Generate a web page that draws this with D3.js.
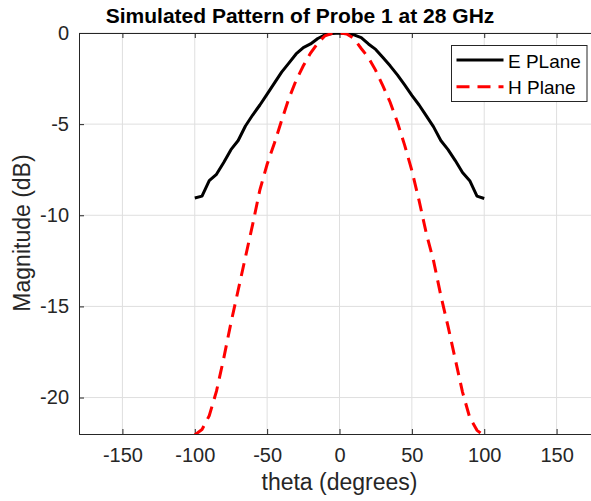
<!DOCTYPE html>
<html>
<head>
<meta charset="utf-8">
<script src="https://cdn.jsdelivr.net/npm/d3@7"></script>
<style>
  body { margin: 0; background: #fff; }
  text { font-family: "Liberation Sans", Arial, sans-serif; fill: #262626; }
</style>
</head>
<body>
<svg id="chart" width="591" height="501"></svg>
<script>
// angles in degrees, sampled every 5 deg
var theta = d3.range(-100, 101, 5);
var ePlane = [-9.05, -8.95, -8.1, -7.75, -7.1, -6.4, -5.9, -5.1, -4.5, -3.95,
              -3.35, -2.75, -2.15, -1.65, -1.15, -0.8, -0.6, -0.3, -0.1, -0.03,
              0,
              -0.03, -0.1, -0.25, -0.6, -0.9, -1.35, -1.8, -2.3, -2.85, -3.42,
              -3.95, -4.55, -5.15, -5.9, -6.4, -7.0, -7.65, -8.1, -8.95, -9.08];
var hPlane = [-22.05, -21.75, -21.0, -19.65, -17.85, -15.9, -14.1, -12.3, -10.5, -8.6,
              -7.2, -6.05, -4.8, -3.6, -2.6, -1.8, -1.1, -0.55, -0.15, -0.02,
              0,
              -0.05, -0.3, -0.85, -1.35, -2.05, -2.9, -3.8, -4.9, -6.15, -7.55,
              -9.2, -11.0, -12.5, -14.4, -16.1, -17.9, -19.7, -21.1, -21.8, -22.1];
var xTicks = [-150, -100, -50, 0, 50, 100, 150];
var yTicks = [0, -5, -10, -15, -20];
var seriesNames = ["E PLane", "H Plane"];

var svg = d3.select("#chart");
var padL = 79, padT = 33, padR = 600, padB = 434;

var x = d3.scaleLinear().domain([-180, 180]).range([padL, padR]);
var y = d3.scaleLinear().domain([-22, 0]).range([padB, padT]);

svg.append("clipPath").attr("id", "plotClip")
  .append("rect")
  .attr("x", padL).attr("y", padT)
  .attr("width", padR - padL).attr("height", padB - padT);

// grid
var grid = svg.append("g");
grid.selectAll("line.gx").data(xTicks).enter().append("line")
  .attr("x1", function (d) { return x(d); }).attr("x2", function (d) { return x(d); })
  .attr("y1", padT).attr("y2", padB)
  .attr("stroke", "#dfdfdf").attr("stroke-width", 1);
grid.selectAll("line.gy").data(yTicks).enter().append("line")
  .attr("x1", padL).attr("x2", padR)
  .attr("y1", function (d) { return y(d); }).attr("y2", function (d) { return y(d); })
  .attr("stroke", "#dfdfdf").attr("stroke-width", 1);

// axes, ticks pointing inward like matlab, plain hyphen minus
var fmt = function (d) { return String(d); };
var xAxis = svg.append("g").attr("transform", "translate(0," + padB + ")")
  .call(d3.axisBottom(x).tickValues(xTicks).tickSize(-5).tickPadding(14).tickFormat(fmt));
var xTop = svg.append("g").attr("transform", "translate(0," + padT + ")")
  .call(d3.axisTop(x).tickValues(xTicks).tickSize(-5).tickFormat(""));
var yAxis = svg.append("g").attr("transform", "translate(" + padL + ",0)")
  .call(d3.axisLeft(y).tickValues(yTicks).tickSize(-5).tickPadding(10).tickFormat(fmt));

[xAxis, xTop, yAxis].forEach(function (a) {
  a.select(".domain").attr("stroke", "#262626").attr("stroke-width", 1);
  a.selectAll(".tick line").attr("stroke", "#262626");
  a.selectAll("text").attr("font-size", 20).attr("fill", "#262626")
    .attr("font-family", "Liberation Sans, Arial, sans-serif");
});
xAxis.selectAll("text").attr("dy", "0.71em");

// curves
var line = d3.line()
  .x(function (d) { return x(d[0]); })
  .y(function (d) { return y(d[1]); });

var plot = svg.append("g").attr("clip-path", "url(#plotClip)");
plot.append("path")
  .datum(d3.zip(theta, ePlane))
  .attr("d", line)
  .attr("fill", "none").attr("stroke", "#000").attr("stroke-width", 3)
  .attr("stroke-linejoin", "round");
plot.append("path")
  .datum(d3.zip(theta, hPlane))
  .attr("d", line)
  .attr("fill", "none").attr("stroke", "#ff0000").attr("stroke-width", 3)
  .attr("stroke-dasharray", "13,8");

// labels
svg.append("text").attr("x", 300).attr("y", 23)
  .attr("text-anchor", "middle").attr("font-size", 21).attr("font-weight", "bold")
  .style("fill", "#000")
  .text("Simulated Pattern of Probe 1 at 28 GHz");
svg.append("text").attr("x", x(0)).attr("y", 490)
  .attr("text-anchor", "middle").attr("font-size", 23)
  .text("theta (degrees)");
svg.append("text")
  .attr("transform", "translate(30,233) rotate(-90)")
  .attr("text-anchor", "middle").attr("font-size", 23)
  .text("Magnitude (dB)");

// legend
var lg = svg.append("g");
lg.append("rect").attr("x", 451.5).attr("y", 45.5).attr("width", 135.5).attr("height", 56)
  .attr("fill", "#fff").attr("stroke", "#262626").attr("stroke-width", 1);
var legendStyles = [
  { stroke: "#000", dash: null },
  { stroke: "#ff0000", dash: "13,8" }
];
seriesNames.forEach(function (name, i) {
  var ly = 60 + i * 26.7;
  lg.append("line").attr("x1", 456.5).attr("x2", 503.5).attr("y1", ly).attr("y2", ly)
    .attr("stroke", legendStyles[i].stroke).attr("stroke-width", 3)
    .attr("stroke-dasharray", legendStyles[i].dash);
  lg.append("text").attr("x", 508).attr("y", ly + 7.5)
    .attr("font-size", 19).style("fill", "#000").text(name);
});
</script>
</body>
</html>
